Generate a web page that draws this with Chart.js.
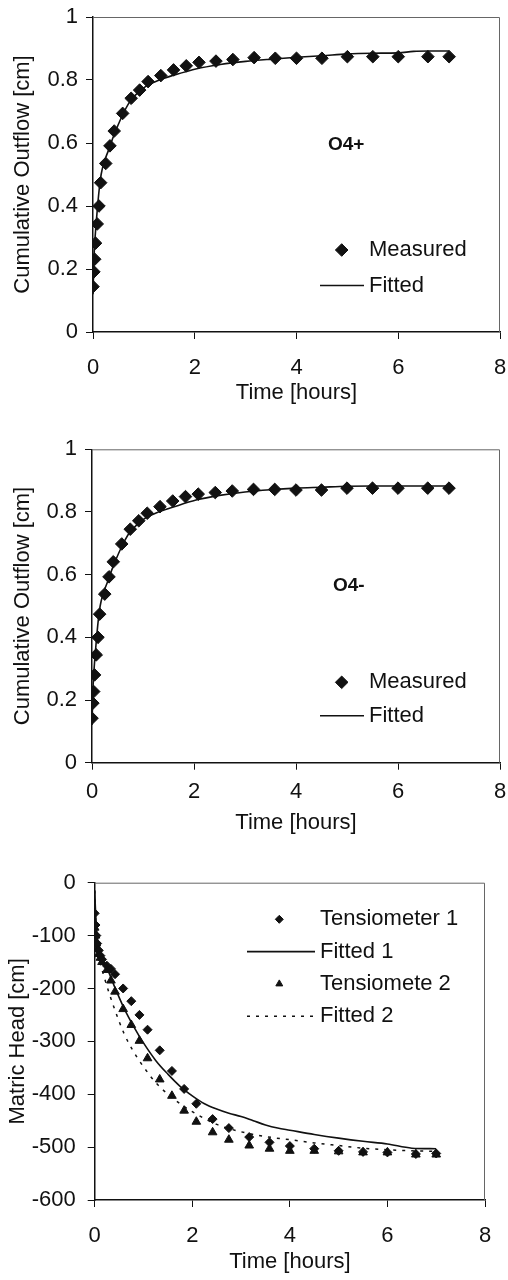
<!DOCTYPE html>
<html>
<head>
<meta charset="utf-8">
<script src="https://cdn.jsdelivr.net/npm/chart.js@4.4.0/dist/chart.umd.min.js"></script>
<style>
  body { margin: 0; background: #fff; width: 508px; height: 1280px; overflow: hidden; }
  canvas { display: block; }
</style>
</head>
<body>
<canvas id="outflowPlus" width="508" height="420"></canvas>
<canvas id="outflowMinus" width="508" height="420"></canvas>
<canvas id="matricHead" width="508" height="440"></canvas>
<script>
// measurement times [hours]
const timeMeasured = [0, 0.017, 0.033, 0.05, 0.083, 0.117, 0.15, 0.25, 0.333, 0.417, 0.583, 0.75, 0.917,
  1.083, 1.333, 1.583, 1.833, 2.083, 2.417, 2.75, 3.167, 3.583, 4.0, 4.5, 5.0, 5.5, 6.0, 6.583, 7.0];

// cumulative outflow [cm]
const outflowPlusMeasured = [0.144, 0.191, 0.231, 0.282, 0.343, 0.400, 0.474, 0.535, 0.591, 0.638, 0.694, 0.742, 0.768,
  0.795, 0.814, 0.832, 0.845, 0.856, 0.860, 0.865, 0.871, 0.869, 0.869, 0.869, 0.874, 0.874, 0.874, 0.874, 0.874];
const outflowMinusMeasured = [0.142, 0.190, 0.227, 0.280, 0.344, 0.400, 0.474, 0.538, 0.593, 0.641, 0.698, 0.745, 0.772,
  0.796, 0.817, 0.835, 0.849, 0.857, 0.862, 0.867, 0.872, 0.872, 0.870, 0.870, 0.876, 0.876, 0.876, 0.876, 0.876];

const timeFittedOutflow = [0, 0.02, 0.05, 0.08, 0.12, 0.16, 0.21, 0.3, 0.4, 0.57, 0.73, 0.9, 1.06, 1.3, 1.58,
  2.04, 2.5, 3.0, 3.5, 4.0, 4.5, 5.0, 5.5, 6.0, 6.3, 6.6, 7.0];
const outflowPlusFitted = [0.12, 0.24, 0.32, 0.38, 0.45, 0.50, 0.535, 0.575, 0.620, 0.685, 0.733, 0.762, 0.782, 0.800, 0.815,
  0.836, 0.849, 0.859, 0.866, 0.872, 0.877, 0.883, 0.885, 0.886, 0.891, 0.892, 0.892];
const outflowMinusFitted = [0.12, 0.24, 0.32, 0.38, 0.45, 0.50, 0.535, 0.575, 0.620, 0.685, 0.733, 0.762, 0.782, 0.800, 0.815,
  0.838, 0.853, 0.864, 0.871, 0.876, 0.879, 0.882, 0.883, 0.883, 0.883, 0.883, 0.883];

// matric head [cm]
const tensiometer1 = [-58, -80, -100, -115, -128, -138, -145, -157, -163, -173, -200, -224, -250,
  -278, -317, -356, -390, -418, -447, -464, -481, -491, -498, -503, -507, -509, -510, -513, -512];
const tensiometer2 = [-85, -100, -115, -125, -135, -142, -150, -165, -185, -206, -239, -269, -299,
  -332, -372, -403, -431, -452, -472, -486, -497, -503, -507, -507, -508, -510, -510, -514, -514];

const timeFitted1 = [0, 0.02, 0.05, 0.1, 0.2, 0.3, 0.4, 0.6, 0.8, 1.0, 1.25, 1.5, 1.75, 2.0, 2.25, 2.5, 2.75,
  3.0, 3.25, 3.5, 3.75, 4.0, 4.5, 5.0, 5.5, 6.0, 6.5, 7.0];
const fitted1 = [-15, -60, -100, -128, -152, -172, -195, -237, -272, -303, -336, -362, -385, -403, -418, -428, -436,
  -442, -450, -458, -464, -468, -476, -483, -489, -494, -502, -503];
const timeFitted2 = [0, 0.02, 0.05, 0.1, 0.2, 0.3, 0.4, 0.6, 0.8, 1.0, 1.25, 1.5, 1.75, 2.0, 2.5,
  3.0, 3.5, 4.0, 4.5, 5.0, 5.5, 6.0, 6.5, 7.0];
const fitted2 = [-15, -70, -110, -145, -180, -210, -237, -285, -320, -348, -378, -400, -418, -433, -457,
  -471, -480, -486, -492, -497, -502, -505, -507, -508];

const timeTicks = [0, 2, 4, 6, 8];
const outflowTicks = [0, 0.2, 0.4, 0.6, 0.8, 1];
const headTicks = [0, -100, -200, -300, -400, -500, -600];

const FONT = "'Liberation Sans', Arial, sans-serif";
Chart.defaults.font.family = FONT;
Chart.defaults.font.size = 22;
Chart.defaults.color = '#111';

const pairs = (xs, ys) => xs.map((x, i) => ({ x, y: ys[i] }));

// grey top/right edges of the plot box
const frame = {
  id: 'frame',
  afterDraw(chart) {
    const { ctx, chartArea: a } = chart;
    ctx.save();
    ctx.strokeStyle = '#666';
    ctx.lineWidth = 1;
    ctx.beginPath();
    ctx.moveTo(a.left, a.top + 0.5);
    ctx.lineTo(a.right - 0.5, a.top + 0.5);
    ctx.lineTo(a.right - 0.5, a.bottom);
    ctx.stroke();
    ctx.restore();
  }
};

// legend drawn inside the plot, Excel style
const keyBox = {
  id: 'keyBox',
  afterDraw(chart, args, o) {
    const ctx = chart.ctx;
    ctx.save();
    ctx.font = '22px ' + FONT;
    ctx.textBaseline = 'middle';
    ctx.fillStyle = '#111';
    ctx.strokeStyle = '#111';
    chart.data.datasets.forEach((ds, i) => {
      const y = o.y + i * o.dy;
      if (ds.showLine) {
        ctx.lineWidth = ds.borderWidth;
        ctx.setLineDash(ds.borderDash || []);
        ctx.beginPath();
        ctx.moveTo(o.lineFrom, y);
        ctx.lineTo(o.lineTo, y);
        ctx.stroke();
        ctx.setLineDash([]);
      } else {
        ctx.lineWidth = 1;
        Chart.helpers.drawPoint(ctx, { pointStyle: ds.pointStyle, radius: o.markerRadius, borderWidth: 1, rotation: 0 }, o.markerX, y);
      }
      ctx.fillText(ds.label, o.textX, y);
    });
    ctx.restore();
  }
};

const panelTag = {
  id: 'panelTag',
  afterDraw(chart, args, o) {
    if (!o.text) return;
    const ctx = chart.ctx;
    ctx.save();
    ctx.font = 'bold 19px ' + FONT;
    ctx.textBaseline = 'middle';
    ctx.fillStyle = '#111';
    ctx.fillText(o.text, o.x, o.y);
    ctx.restore();
  }
};

function makeChart(id, datasets, g) {
  return new Chart(document.getElementById(id), {
    type: 'scatter',
    data: { datasets },
    plugins: [frame, keyBox, panelTag],
    options: {
      responsive: false,
      animation: false,
      layout: { padding: { left: 0, right: 508 - g.right, top: g.top, bottom: 0 } },
      plugins: {
        legend: { display: false },
        tooltip: { enabled: false },
        keyBox: g.key,
        panelTag: g.tag || {}
      },
      scales: {
        x: {
          type: 'linear',
          min: 0, max: 8,
          afterBuildTicks: s => { s.ticks = timeTicks.map(v => ({ value: v })); },
          afterFit: s => { s.height = g.height - g.bottom; s.paddingLeft = 0; s.paddingRight = 0; },
          ticks: { padding: g.xTickPad, maxRotation: 0, callback: v => String(v) },
          grid: { drawOnChartArea: false, drawTicks: true, tickLength: 7, color: '#111', lineWidth: 1 },
          border: { color: '#111', width: 1.5 },
          title: { display: true, text: 'Time [hours]', padding: { top: 0, bottom: g.xTitlePad } }
        },
        y: {
          type: 'linear',
          min: g.yMin, max: g.yMax,
          afterBuildTicks: s => { s.ticks = g.yTicks.map(v => ({ value: v })); },
          afterFit: s => { s.width = g.left; s.paddingTop = 0; s.paddingBottom = 0; },
          ticks: { padding: g.yTickPad, callback: v => String(v) },
          grid: { drawOnChartArea: false, drawTicks: true, tickLength: 7, color: '#111', lineWidth: 1 },
          border: { color: '#111', width: 1.5 },
          title: { display: true, text: g.yTitle, padding: { top: g.yTitlePad, bottom: 0 } }
        }
      }
    }
  });
}

const measuredStyle = { showLine: false, pointStyle: 'rectRot', pointRadius: 6.3, backgroundColor: '#111', borderColor: '#111', borderWidth: 1 };
const fittedStyle = { showLine: true, pointRadius: 0, borderColor: '#111', borderWidth: 1.6, cubicInterpolationMode: 'monotone' };

makeChart('outflowPlus', [
  { label: 'Measured', data: pairs(timeMeasured, outflowPlusMeasured), ...measuredStyle },
  { label: 'Fitted', data: pairs(timeFittedOutflow, outflowPlusFitted), ...fittedStyle }
], {
  height: 420, left: 93, right: 500, top: 17, bottom: 332,
  yMin: 0, yMax: 1, yTicks: outflowTicks, yTickPad: 8, yTitle: 'Cumulative Outflow [cm]', yTitlePad: 10, xTitlePad: 14,
  xTickPad: 16,
  key: { markerX: 341.7, markerRadius: 6.3, textX: 369, lineFrom: 320, lineTo: 364, y: 250, dy: 35.5 },
  tag: { text: 'O4+', x: 328, y: 145 }
});

makeChart('outflowMinus', [
  { label: 'Measured', data: pairs(timeMeasured, outflowMinusMeasured), ...measuredStyle },
  { label: 'Fitted', data: pairs(timeFittedOutflow, outflowMinusFitted), ...fittedStyle }
], {
  height: 420, left: 92, right: 500, top: 29.3, bottom: 342.7,
  yMin: 0, yMax: 1, yTicks: outflowTicks, yTickPad: 8, yTitle: 'Cumulative Outflow [cm]', yTitlePad: 10, xTitlePad: 4,
  xTickPad: 9,
  key: { markerX: 341.7, markerRadius: 6.3, textX: 369, lineFrom: 320, lineTo: 364, y: 262.3, dy: 33.4 },
  tag: { text: 'O4-', x: 333, y: 165.7 }
});

makeChart('matricHead', [
  { label: 'Tensiometer 1', data: pairs(timeMeasured, tensiometer1), showLine: false, pointStyle: 'rectRot', pointRadius: 4.5, backgroundColor: '#111', borderColor: '#111', borderWidth: 1 },
  { label: 'Fitted 1', data: pairs(timeFitted1, fitted1), ...fittedStyle },
  { label: 'Tensiomete 2', data: pairs(timeMeasured, tensiometer2), showLine: false, pointStyle: 'triangle', pointRadius: 5, backgroundColor: '#111', borderColor: '#111', borderWidth: 1 },
  { label: 'Fitted 2', data: pairs(timeFitted2, fitted2), showLine: true, pointRadius: 0, borderColor: '#111', borderWidth: 1.5, borderDash: [3, 6], cubicInterpolationMode: 'monotone' }
], {
  height: 440, left: 94.7, right: 485, top: 42.7, bottom: 360,
  yMin: -600, yMax: 0, yTicks: headTicks, yTickPad: 12, yTitle: 'Matric Head [cm]', yTitlePad: 4.5, xTitlePad: 5,
  xTickPad: 16,
  key: { markerX: 279.3, markerRadius: 4, textX: 320, lineFrom: 247, lineTo: 315, y: 79.3, dy: 32.3 }
});
</script>
</body>
</html>
